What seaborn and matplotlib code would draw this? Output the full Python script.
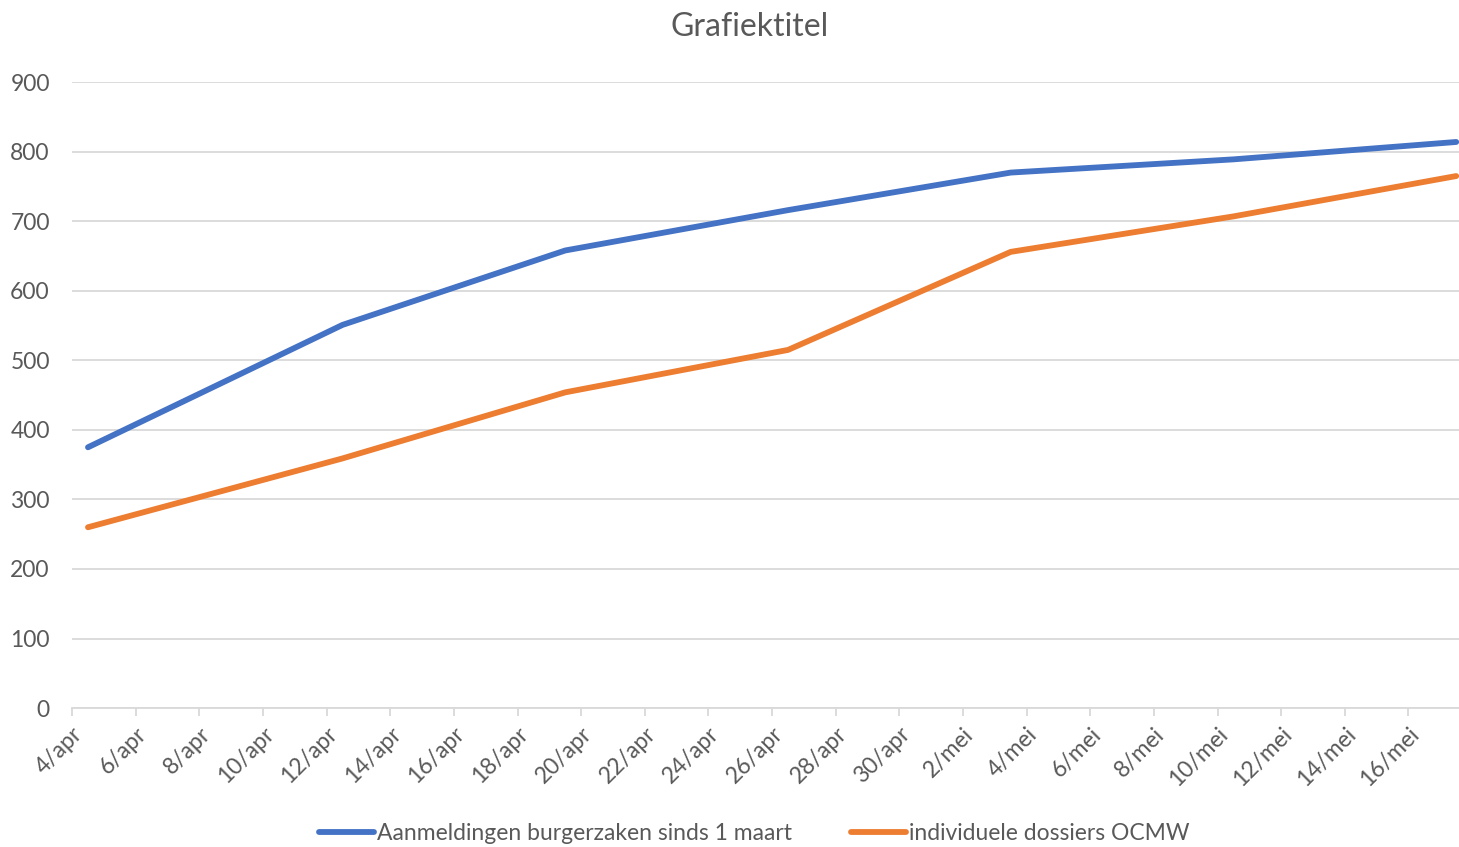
import pandas as pd
import seaborn as sns
import matplotlib.pyplot as plt

# data (weekly points)
dates = ["2020-04-04", "2020-04-12", "2020-04-19", "2020-04-26",
         "2020-05-03", "2020-05-10", "2020-05-17"]
burgerzaken = [375, 551, 658, 716, 770, 789, 814]
ocmw = [260, 359, 454, 515, 656, 707, 765]
series_names = ["Aanmeldingen burgerzaken sinds 1 maart", "individuele dossiers OCMW"]
month_names = {4: "apr", 5: "mei"}

start = pd.Timestamp("2020-04-04")
end = pd.Timestamp("2020-05-18")
colors = ["#4472C4", "#ED7D31"]
text_color = "#595959"

# long-form table, x in days since 4/apr (points sit mid-day like Excel date axes)
x_days = [(pd.Timestamp(d) - start).days + 0.5 for d in dates]
df = pd.DataFrame({
    "x": x_days * 2,
    "value": burgerzaken + ocmw,
    "series": [series_names[0]] * len(dates) + [series_names[1]] * len(dates),
})

sns.set_theme(style="white")
plt.rcParams['font.family'] = ['Lato', 'DejaVu Sans']

fig = plt.figure(figsize=(14.59, 8.47), dpi=100)
# the plot area runs a little past the right edge of the picture, as in the reference
ax = fig.add_axes([0.0494, 0.164, 0.9596, 0.739])

sns.lineplot(data=df, x="x", y="value", hue="series", palette=colors,
             linewidth=4.2, ax=ax, solid_capstyle="round", legend=True)

total_days = (end - start).days
ax.set_xlim(0, total_days)
ax.set_ylim(0, 900)
ax.set_yticks(range(0, 901, 100))
ax.yaxis.grid(True, color="#D9D9D9", linewidth=1.3)
ax.set_axisbelow(True)

tick_pos = list(range(0, total_days, 2))
tick_labels = []
for d in tick_pos:
    t = start + pd.Timedelta(days=d)
    tick_labels.append(f"{t.day}/{month_names[t.month]}")
ax.set_xticks(tick_pos)
ax.set_xticklabels(tick_labels, rotation=45, ha="right", rotation_mode="anchor")

for side in ["top", "right", "left"]:
    ax.spines[side].set_visible(False)
ax.spines["bottom"].set_color("#D9D9D9")
ax.spines["bottom"].set_linewidth(1.3)
ax.tick_params(axis="x", length=6, color="#D9D9D9", width=1.3, labelsize=16.5,
               labelcolor=text_color, bottom=True, pad=5)
ax.tick_params(axis="y", length=0, labelsize=16.5, labelcolor=text_color, pad=16)
ax.set_xlabel("")
ax.set_ylabel("")

fig.text(0.514, 0.968, "Grafiektitel", ha="center", va="center",
         fontsize=23, color=text_color)

handles, labels = ax.get_legend_handles_labels()
ax.get_legend().remove()
fig.legend(handles, labels, loc="center", bbox_to_anchor=(0.517, 0.0165),
           ncol=2, frameon=False, fontsize=16.5, labelcolor=text_color,
           handlelength=2.4, handletextpad=0.1, columnspacing=2.6)

fig.savefig("out.png", dpi=100)
